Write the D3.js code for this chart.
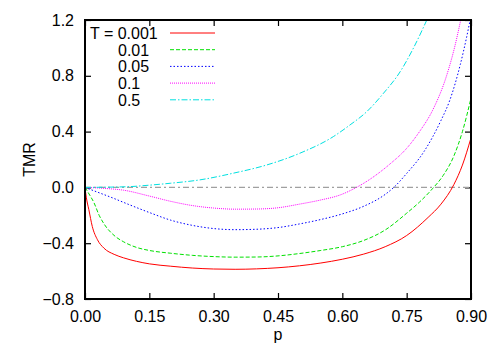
<!DOCTYPE html>
<html>
<head>
<meta charset="utf-8">
<script src="https://cdn.jsdelivr.net/npm/d3@7"></script>
<style>
  body { margin: 0; background: #fff; }
  text { font-family: "Liberation Sans", Arial, sans-serif; }
</style>
</head>
<body>
<div id="chart"></div>
<script>
// data
var xTicks = [0, 0.15, 0.30, 0.45, 0.60, 0.75, 0.90];
var yTicks = [-0.8, -0.4, 0.0, 0.4, 0.8, 1.2];

var temps = ['0.001', '0.01', '0.05', '0.1', '0.5'];

var p001 = [0, 0.003, 0.009, 0.017, 0.029, 0.044, 0.068, 0.09, 0.12, 0.15, 0.2, 0.25, 0.3, 0.35, 0.4, 0.45, 0.5, 0.55, 0.6, 0.65, 0.7, 0.75, 0.8, 0.83, 0.86, 0.88, 0.9];
var tmr001 = [0, -0.07, -0.16, -0.28, -0.375, -0.435, -0.48, -0.505, -0.53, -0.548, -0.565, -0.578, -0.585, -0.587, -0.584, -0.576, -0.562, -0.542, -0.515, -0.478, -0.425, -0.345, -0.215, -0.12, 0.02, 0.16, 0.355];

var p01 = [0, 0.008, 0.021, 0.033, 0.044, 0.07, 0.09, 0.12, 0.15, 0.2, 0.25, 0.3, 0.35, 0.4, 0.45, 0.5, 0.55, 0.6, 0.65, 0.7, 0.75, 0.78, 0.81, 0.835, 0.86, 0.88, 0.9];
var tmr01 = [0, -0.04, -0.11, -0.2, -0.26, -0.35, -0.39, -0.43, -0.452, -0.472, -0.487, -0.496, -0.5, -0.499, -0.491, -0.474, -0.452, -0.425, -0.38, -0.305, -0.185, -0.105, -0.01, 0.085, 0.225, 0.4, 0.64];

var p05 = [0, 0.03, 0.06, 0.1, 0.15, 0.2, 0.25, 0.3, 0.35, 0.4, 0.45, 0.5, 0.55, 0.6, 0.65, 0.7, 0.72, 0.75, 0.79, 0.83, 0.85, 0.875, 0.89, 0.898];
var tmr05 = [0, -0.035, -0.07, -0.12, -0.18, -0.235, -0.272, -0.295, -0.303, -0.3, -0.288, -0.262, -0.23, -0.19, -0.135, -0.05, 0, 0.1, 0.255, 0.48, 0.62, 0.88, 1.08, 1.2];

var p1 = [0, 0.05, 0.09, 0.15, 0.2, 0.25, 0.3, 0.35, 0.4, 0.45, 0.5, 0.55, 0.595, 0.633, 0.67, 0.71, 0.75, 0.78, 0.81, 0.843, 0.863, 0.876];
var tmr1 = [0, -0.008, -0.02, -0.062, -0.1, -0.13, -0.148, -0.156, -0.155, -0.146, -0.12, -0.09, -0.054, 0, 0.07, 0.165, 0.28, 0.4, 0.55, 0.8, 1.02, 1.2];

var p5 = [0, 0.1, 0.15, 0.2, 0.268, 0.346, 0.424, 0.501, 0.579, 0.618, 0.657, 0.696, 0.735, 0.766, 0.797];
var tmr5 = [0, 0.005, 0.016, 0.03, 0.054, 0.102, 0.161, 0.245, 0.364, 0.448, 0.543, 0.675, 0.83, 1.0, 1.2];

var series = [
  { p: p001, t: tmr001, color: '#ff0000', dash: null },
  { p: p01, t: tmr01, color: '#00e000', dash: '4,2' },
  { p: p05, t: tmr05, color: '#0000ff', dash: '1.5,2' },
  { p: p1, t: tmr1, color: '#ff00ff', dash: '1,1' },
  { p: p5, t: tmr5, color: '#00e0e0', dash: '6,2,1.5,2' }
];

var margin = { top: 20, right: 29, bottom: 51, left: 85 },
    width = 500 - margin.left - margin.right,
    height = 350 - margin.top - margin.bottom;

var svg = d3.select('#chart')
  .append('svg')
    .attr('width', 500)
    .attr('height', 350)
  .append('g')
    .attr('transform', 'translate(' + margin.left + ',' + margin.top + ')');

var x = d3.scaleLinear().domain([0, 0.9]).range([0, width]);
var y = d3.scaleLinear().domain([-0.8, 1.2]).range([height, 0]);

svg.append('clipPath').attr('id', 'clip')
  .append('rect').attr('width', width).attr('height', height);

// axes with inward ticks, mirrored on top and right
function styleAxis(g) {
  g.select('.domain').remove();
  g.selectAll('.tick line').attr('stroke', '#000').attr('stroke-width', 1.2);
  g.selectAll('.tick text').attr('font-size', '16px').attr('fill', '#000')
    .attr('font-family', '"Liberation Sans", Arial, sans-serif');
}

svg.append('g')
  .attr('transform', 'translate(0,' + height + ')')
  .call(d3.axisBottom(x).tickValues(xTicks).tickFormat(d3.format('.2f')).tickSizeInner(-6).tickPadding(12))
  .call(styleAxis);
svg.append('g')
  .call(d3.axisTop(x).tickValues(xTicks).tickFormat('').tickSizeInner(-6))
  .call(styleAxis);
svg.append('g')
  .call(d3.axisLeft(y).tickValues(yTicks).tickFormat(d3.format('.1f')).tickSizeInner(-6).tickPadding(11))
  .call(styleAxis);
svg.append('g')
  .attr('transform', 'translate(' + width + ',0)')
  .call(d3.axisRight(y).tickValues(yTicks).tickFormat('').tickSizeInner(-6))
  .call(styleAxis);

// zero axis
svg.append('line')
  .attr('x1', x(0)).attr('x2', x(0.9))
  .attr('y1', y(0)).attr('y2', y(0))
  .attr('stroke', '#a0a0a0')
  .attr('stroke-width', 1.2)
  .attr('stroke-dasharray', '6,3,2,3');

var line = d3.line()
  .x(function(d) { return x(d[0]); })
  .y(function(d) { return y(d[1]); })
  .curve(d3.curveMonotoneX);

series.forEach(function(s) {
  var pts = s.p.map(function(v, i) { return [v, s.t[i]]; });
  svg.append('path')
    .datum(pts)
    .attr('clip-path', 'url(#clip)')
    .attr('fill', 'none')
    .attr('stroke', s.color)
    .attr('stroke-width', 1)
    .attr('stroke-dasharray', s.dash)
    .attr('d', line);
});

// legend
var legend = svg.append('g');
series.forEach(function(s, i) {
  var yy = 13 + i * 16.7;
  legend.append('text')
    .attr('x', i === 0 ? 5 : 33)
    .attr('y', yy + 6)
    .attr('font-size', '16px')
    .attr('fill', '#000')
    .text((i === 0 ? 'T = ' : '') + temps[i]);
  legend.append('line')
    .attr('x1', 85).attr('x2', 130)
    .attr('y1', yy).attr('y2', yy)
    .attr('stroke', s.color)
    .attr('stroke-width', 1)
    .attr('stroke-dasharray', s.dash);
});

// frame
svg.append('rect')
  .attr('width', width).attr('height', height)
  .attr('fill', 'none')
  .attr('stroke', '#000')
  .attr('stroke-width', 2);

svg.append('text')
  .attr('transform', 'translate(' + (width / 2) + ',' + (height + 41) + ')')
  .attr('text-anchor', 'middle')
  .attr('font-size', '16px')
  .attr('fill', '#000')
  .text('p');

svg.append('text')
  .attr('transform', 'translate(' + (-50) + ',' + (height / 2) + ') rotate(-90)')
  .attr('text-anchor', 'middle')
  .attr('font-size', '16px')
  .attr('fill', '#000')
  .text('TMR');
</script>
</body>
</html>
